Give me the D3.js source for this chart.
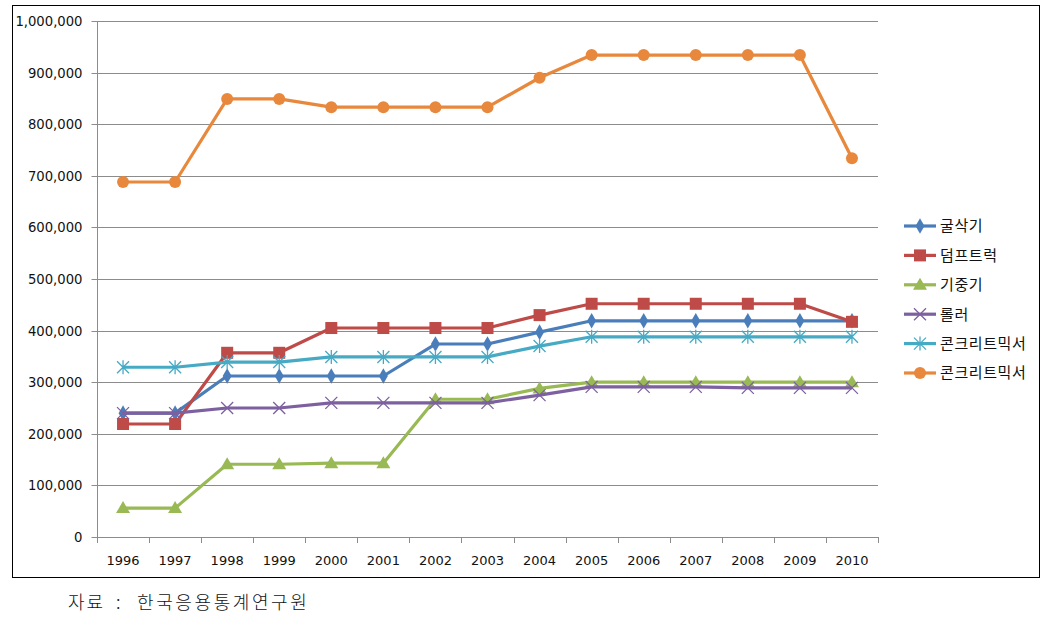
<!DOCTYPE html>
<html><head><meta charset="utf-8">
<script src="https://cdn.jsdelivr.net/npm/d3@7"></script>
<style>body{margin:0;background:#fff}</style>
</head><body><svg id="c" width="1056" height="620"></svg>
<script>
const years = ["1996","1997","1998","1999","2000","2001","2002","2003","2004","2005","2006","2007","2008","2009","2010"];
const yTicks = [0,100000,200000,300000,400000,500000,600000,700000,800000,900000,1000000];
const seriesNames = ["굴삭기","덤프트럭","기중기","롤러","콘크리트믹서","콘크리트믹서"];
const excavator = [240000,240000,312000,312000,312000,312000,374000,374000,397000,419000,419000,419000,419000,419000,419000];
const dumpTruck = [219000,219000,357000,357000,405000,405000,405000,405000,430000,452000,452000,452000,452000,452000,417000];
const crane = [56000,56000,141000,141000,143000,143000,267000,267000,288000,300000,300000,300000,300000,300000,300000];
const roller = [240000,240000,250000,250000,260000,260000,260000,260000,275000,291000,291000,291000,289000,289000,289000];
const mixer1 = [329000,329000,339000,339000,349000,349000,349000,349000,370000,388000,388000,388000,388000,388000,388000];
const mixer2 = [688000,688000,849000,849000,833000,833000,833000,833000,890000,934000,934000,934000,934000,934000,734000];
const sourceParts = ["자료", ":", "한국응용통계연구원"];

const colors = ["#4A7EBB","#BE4B48","#98B954","#7D60A0","#46AAC5","#E8883C"];
const shapes = ["diamond","square","triangle","x","asterisk","circle"];
const data = [excavator,dumpTruck,crane,roller,mixer1,mixer2];

const svg = d3.select("#c");
svg.append("rect").attr("x",12.5).attr("y",5.5).attr("width",1027).attr("height",572)
  .attr("fill","none").attr("stroke","#000").attr("stroke-width",1);

const L=97, R=878, T=21, B=537;
const x = d3.scaleBand().domain(years).range([L,R]);
const y = d3.scaleLinear().domain([0,1000000]).range([B,T]);
const fmt = d3.format(",");

// gridlines
svg.append("g").selectAll("line").data(yTicks.filter(d=>d>0)).join("line")
  .attr("x1",L).attr("x2",R).attr("y1",d=>Math.round(y(d))+0.5).attr("y2",d=>Math.round(y(d))+0.5)
  .attr("stroke","#8c8c8c").attr("stroke-width",1);

// y axis
const ya = svg.append("g").attr("transform",`translate(${L+0.5},0)`)
  .call(d3.axisLeft(y).tickValues(yTicks).tickFormat(fmt).tickSize(6).tickPadding(9));
ya.select(".domain").attr("stroke","#8c8c8c").attr("d",`M0,${T}V${B}`);
ya.selectAll(".tick line").attr("stroke","#8c8c8c");
ya.selectAll(".tick").attr("transform",d=>`translate(0,${Math.round(y(d))+0.5})`);
ya.selectAll("text").attr("font-family","DejaVu Sans, Verdana, sans-serif").attr("font-size",13.2).attr("fill","#111");

// x axis
const xa = svg.append("g").attr("transform",`translate(0,${B+0.5})`)
  .call(d3.axisBottom(x).tickSize(0).tickPadding(18));
xa.select(".domain").attr("stroke","#8c8c8c").attr("d",`M${L},0H${R}`);
xa.selectAll("text").attr("font-family","DejaVu Sans, Verdana, sans-serif").attr("font-size",13).attr("fill","#111");
svg.append("g").selectAll("line").data(d3.range(years.length+1)).join("line")
  .attr("x1",i=>Math.round(L+i*x.step())+0.5).attr("x2",i=>Math.round(L+i*x.step())+0.5)
  .attr("y1",B).attr("y2",B+6).attr("stroke","#8c8c8c");

function marker(g, shape, color){
  if(shape==="diamond") g.append("path").attr("d",d3.symbol(d3.symbolDiamond,70)()).attr("fill",color);
  else if(shape==="square") g.append("rect").attr("x",-6).attr("y",-6).attr("width",12).attr("height",12).attr("fill",color);
  else if(shape==="triangle") g.append("path").attr("d","M0,-7L7,5L-7,5Z").attr("fill",color);
  else if(shape==="circle") g.append("circle").attr("r",6).attr("fill",color);
  else if(shape==="x") g.append("path").attr("d","M-6,-6L6,6M-6,6L6,-6").attr("stroke",color).attr("stroke-width",1.3);
  else if(shape==="asterisk") g.append("path").attr("d","M-6,-6L6,6M-6,6L6,-6M0,-7V7").attr("stroke",color).attr("stroke-width",1.3);
}

const line = d3.line().x((d,i)=>x(years[i])+x.bandwidth()/2).y(d=>y(d));
data.forEach((vals,k)=>{
  const g = svg.append("g");
  g.append("path").datum(vals).attr("d",line).attr("fill","none")
    .attr("stroke",colors[k]).attr("stroke-width",3.2).attr("stroke-linejoin","round");
  vals.forEach((v,i)=>{
    const m = g.append("g").attr("transform",`translate(${x(years[i])+x.bandwidth()/2},${y(v)})`);
    marker(m, shapes[k], colors[k]);
  });
});

// legend
const lg = svg.append("g");
seriesNames.forEach((n,k)=>{
  const yy = 226 + k*29.4;
  const g = lg.append("g").attr("transform",`translate(0,${yy})`);
  g.append("line").attr("x1",904).attr("x2",936).attr("y1",0).attr("y2",0).attr("stroke",colors[k]).attr("stroke-width",3.2);
  const m = g.append("g").attr("transform","translate(920,0)");
  marker(m, shapes[k], colors[k]);
  g.append("text").attr("x",940).attr("y",0).attr("dy","0.36em").text(n)
    .attr("font-family","Noto Sans CJK KR, sans-serif").attr("font-size",15).attr("letter-spacing",0.6).attr("fill","#111");
});

const st = svg.append("text").attr("y",609)
  .attr("font-family","Noto Sans CJK KR, sans-serif").attr("font-size",18).attr("font-weight",300).attr("fill","#111");
const sx = [68,116,137];
const ls = [2,0,2.6];
sourceParts.forEach((p,i)=>{
  st.append("tspan").attr("x",sx[i]).attr("letter-spacing",ls[i]).text(p);
});
</script></body></html>
